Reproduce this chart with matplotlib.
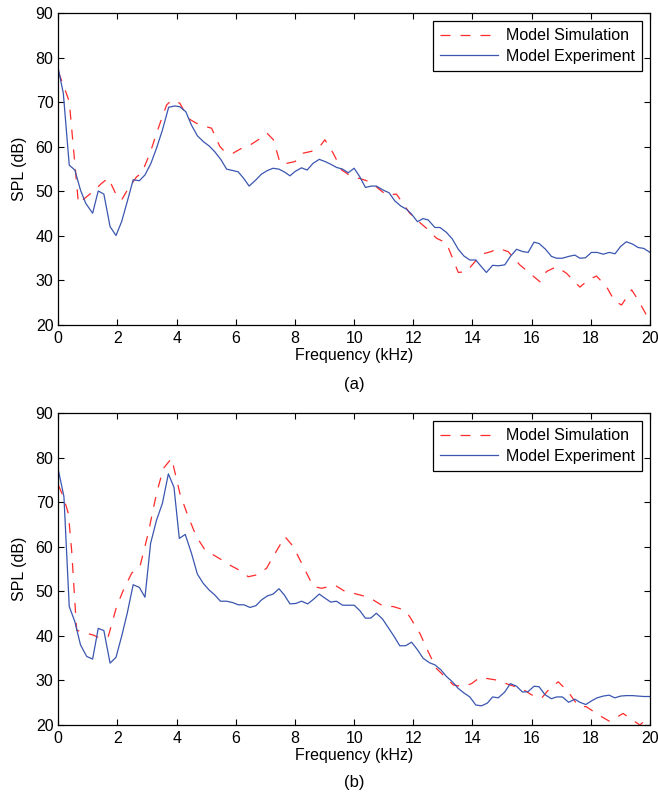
import matplotlib
matplotlib.use("Agg")
import matplotlib.pyplot as plt

plt.rcParams['font.family'] = ['Liberation Sans', 'DejaVu Sans']
plt.rcParams['font.size'] = 11.5
plt.rcParams['lines.scale_dashes'] = False

# ---- Panel (a) ----
a_exp_f = [0, 0.17, 0.37, 0.56, 0.75, 0.93, 1.16, 1.35, 1.54, 1.75, 1.95, 2.14, 2.33, 2.53, 2.74, 2.93,
           3.13, 3.32, 3.52, 3.73, 3.94, 4.11, 4.31, 4.5, 4.7, 4.9, 5.1, 5.29, 5.5, 5.69, 5.89, 6.08,
           6.27, 6.45, 6.68, 6.87, 7.07, 7.26, 7.46, 7.66, 7.83, 8.01, 8.22, 8.41, 8.61, 8.82, 9.02,
           9.21, 9.40, 9.61, 9.80, 10.0, 10.19, 10.38, 10.59, 10.75, 10.98, 11.18, 11.37, 11.58, 11.77,
           11.94, 12.14, 12.33, 12.5, 12.73, 12.9, 13.12, 13.32, 13.52, 13.71, 13.91, 14.11, 14.3, 14.47,
           14.68, 14.87, 15.09, 15.28, 15.49, 15.69, 15.88, 16.08, 16.25, 16.47, 16.67, 16.84, 17.04,
           17.25, 17.46, 17.63, 17.82, 18.02, 18.21, 18.42, 18.62, 18.82, 19.0, 19.2, 19.4, 19.6, 19.79, 20.0]
a_exp_db = [77.6, 72.0, 55.9, 54.8, 50.3, 47.3, 45.1, 50.1, 49.4, 42.1, 40.1, 43.2, 47.7, 52.6, 52.4, 53.7,
            56.3, 59.7, 63.8, 68.9, 69.2, 69.0, 67.9, 64.9, 62.5, 61.2, 60.2, 58.9, 57.1, 55.0, 54.7, 54.4,
            52.9, 51.2, 52.6, 53.9, 54.7, 55.2, 55.0, 54.3, 53.5, 54.5, 55.3, 54.8, 56.3, 57.2, 56.7,
            56.1, 55.4, 55.0, 54.2, 55.2, 53.3, 50.9, 51.2, 51.2, 50.3, 49.7, 47.9, 46.7, 46.0,
            44.9, 43.2, 43.9, 43.6, 41.9, 41.9, 40.8, 39.3, 37.0, 35.5, 34.6, 34.6, 33.1, 31.8,
            33.4, 33.3, 33.5, 35.4, 37.0, 36.5, 36.3, 38.6, 38.3, 37.0, 35.4, 35.0, 35.0,
            35.4, 35.7, 35.0, 35.1, 36.3, 36.3, 35.9, 36.3, 36.0, 37.6, 38.7, 38.2, 37.4, 37.2, 36.3]

a_sim_f = [0, 0.23, 0.37, 0.68, 0.9, 1.18, 1.46, 1.69, 1.99, 2.14, 2.37, 2.65, 2.82, 3.1, 3.38, 3.66, 3.83,
           4.11, 4.39, 4.67, 4.96, 5.18, 5.46, 5.63, 5.91, 6.2, 6.48, 6.76, 7.05, 7.27, 7.5, 7.72, 8.0,
           8.28, 8.56, 8.84, 9.01, 9.29, 9.58, 9.92, 10.19, 10.42, 10.64, 11.09, 11.43, 11.88, 12.22,
           12.45, 12.78, 13.12, 13.35, 13.52, 13.8, 14.08, 14.36, 14.64, 14.87, 15.2, 15.6, 15.94,
           16.28, 16.5, 16.84, 17.18, 17.63, 17.91, 18.19, 18.53, 18.81, 19.04, 19.38, 19.6, 19.94]
a_sim_db = [76.9, 72.8, 70.2, 47.3, 48.5, 50.0, 51.8, 53.0, 48.8, 48.1, 50.7, 53.3, 54.1, 58.6, 64.2, 69.4, 70.5,
            69.8, 66.4, 65.3, 64.6, 64.2, 60.1, 58.9, 58.6, 59.7, 60.4, 61.6, 63.1, 61.6, 56.3, 56.3, 56.7,
            58.6, 59.0, 60.1, 61.6, 58.6, 54.8, 53.3, 52.9, 52.4, 51.6, 49.2, 49.4, 45.1, 43.0,
            41.7, 39.5, 38.4, 34.6, 31.8, 32.0, 34.2, 36.0, 36.5, 37.2, 36.5, 33.5, 31.6,
            29.7, 32.0, 33.1, 31.6, 28.5, 30.1, 31.0, 28.6, 25.3, 24.5, 27.9, 25.6, 21.5]

# ---- Panel (b) ----
b_exp_f = [0, 0.19, 0.37, 0.56, 0.75, 0.96, 1.16, 1.35, 1.54, 1.75, 1.95, 2.14, 2.33, 2.53, 2.74, 2.93,
           3.12, 3.32, 3.52, 3.72, 3.91, 4.09, 4.29, 4.5, 4.7, 4.9, 5.1, 5.29, 5.48, 5.69, 5.89, 6.08,
           6.27, 6.48, 6.68, 6.87, 7.07, 7.26, 7.46, 7.64, 7.83, 8.03, 8.22, 8.43, 8.62, 8.82, 9.01,
           9.21, 9.4, 9.61, 9.8, 10.0, 10.19, 10.38, 10.56, 10.75, 10.96, 11.15, 11.35, 11.54, 11.74,
           11.94, 12.14, 12.33, 12.54, 12.73, 12.93, 13.12, 13.32, 13.52, 13.71, 13.91, 14.11, 14.3,
           14.5, 14.68, 14.87, 15.09, 15.28, 15.49, 15.69, 15.88, 16.08, 16.25, 16.45, 16.67, 16.84,
           17.04, 17.25, 17.46, 17.63, 17.83, 18.02, 18.21, 18.42, 18.62, 18.81, 19.01, 19.2, 19.4,
           19.6, 19.79, 20.0]
b_exp_db = [77.3, 71.3, 46.6, 43.2, 38.0, 35.4, 34.8, 41.7, 41.2, 33.9, 35.2, 39.9, 45.1, 51.5, 50.9, 48.7,
            60.8, 66.0, 69.8, 76.4, 73.4, 61.9, 62.8, 58.6, 53.9, 51.8, 50.3, 49.2, 47.8, 47.8, 47.5, 47.0,
            47.0, 46.4, 46.8, 48.1, 49.0, 49.4, 50.6, 49.2, 47.2, 47.3, 47.8, 47.2, 48.2, 49.4, 48.5,
            47.6, 47.8, 46.9, 46.9, 46.9, 45.7, 44.0, 44.0, 45.1, 43.8, 41.9, 39.9, 37.8, 37.8,
            38.6, 36.9, 35.0, 34.0, 33.5, 32.4, 30.9, 29.7, 28.2, 27.2, 26.3, 24.5, 24.3,
            24.9, 26.3, 26.1, 27.4, 29.3, 28.7, 27.4, 27.5, 28.7, 28.6, 26.8, 25.9, 26.3,
            26.3, 25.1, 25.8, 25.1, 24.6, 25.4, 26.1, 26.5, 26.7, 26.1, 26.5, 26.6, 26.6,
            26.5, 26.4, 26.4]

b_sim_f = [0, 0.17, 0.34, 0.45, 0.62, 0.84, 1.18, 1.41, 1.69, 1.97, 2.2, 2.48, 2.76, 3.04, 3.32, 3.55, 3.83,
           4.11, 4.39, 4.67, 4.96, 5.24, 5.52, 5.8, 6.14, 6.42, 6.7, 7.04, 7.26, 7.66, 7.94, 8.28, 8.62,
           8.9, 9.35, 9.69, 9.97, 10.42, 10.64, 10.98, 11.32, 11.71, 11.88, 12.22, 12.5, 12.78, 13.12,
           13.35, 13.68, 13.97, 14.25, 14.81, 15.26, 15.66, 15.99, 16.33, 16.61, 16.9, 17.23, 17.57,
           17.85, 18.25, 18.64, 19.09, 19.32, 19.66, 20.0]
b_sim_db = [73.9, 71.3, 67.5, 59.3, 41.3, 40.8, 40.2, 39.5, 39.9, 46.6, 50.3, 54.1, 55.6, 63.1, 72.0, 77.6, 79.9,
            72.0, 66.8, 62.3, 59.3, 58.2, 57.1, 55.9, 54.7, 53.3, 53.7, 55.2, 57.8, 62.3, 60.1, 55.6, 51.1,
            50.7, 51.4, 50.0, 49.6, 48.8, 48.1, 46.7, 46.6, 45.8, 44.3, 40.6, 36.5, 32.7, 30.5,
            29.0, 28.6, 29.3, 30.7, 30.1, 29.0, 28.2, 26.8, 26.0, 28.2, 29.7, 27.5, 24.3,
            24.1, 22.3, 20.8, 22.6, 21.5, 20.0, 22.0]

x_ticks = [0, 2, 4, 6, 8, 10, 12, 14, 16, 18, 20]
y_ticks = [20, 30, 40, 50, 60, 70, 80, 90]
series_labels = ['Model Simulation', 'Model Experiment']
panel_tags = ['(a)', '(b)']

RED = '#ff2a2a'
BLUE = '#3a56b0'
FS = 11.5

W, H = 658, 794
fig = plt.figure(figsize=(W / 100, H / 100), dpi=100)

panels = [
    (a_sim_f, a_sim_db, a_exp_f, a_exp_db, 13.3, 325.0, 384),
    (b_sim_f, b_sim_db, b_exp_f, b_exp_db, 413.3, 725.0, 782),
]
left_px, right_px = 58.3, 650.0

for i, (sf, sd, ef, ed, top_px, bot_px, tag_y) in enumerate(panels):
    ax = fig.add_axes([left_px / W, 1 - bot_px / H, (right_px - left_px) / W, (bot_px - top_px) / H])
    ax.plot(sf, sd, color=RED, lw=0.9, dashes=(7.2, 7.2), label=series_labels[0])
    ax.plot(ef, ed, color=BLUE, lw=0.9, label=series_labels[1])
    ax.set_xlim(0, 20)
    ax.set_ylim(20, 90)
    ax.set_xticks(x_ticks)
    ax.set_yticks(y_ticks)
    ax.tick_params(direction='in', top=True, right=True, length=4, width=0.8, labelsize=FS)
    ax.tick_params(axis='x', pad=4)
    ax.tick_params(axis='y', pad=3.5)
    for s in ax.spines.values():
        s.set_linewidth(0.9)
    ax.set_xlabel('Frequency (kHz)', fontsize=FS, labelpad=2)
    ax.set_ylabel('SPL (dB)', fontsize=FS, labelpad=6)
    leg = ax.legend(loc='upper right', fontsize=FS, frameon=True, fancybox=False, framealpha=1,
                    edgecolor='black', handlelength=3.6, handletextpad=0.5, borderpad=0.45,
                    labelspacing=0.35, borderaxespad=0.5)
    leg.get_frame().set_linewidth(0.9)
    fig.text((left_px + right_px) / 2 / W, 1 - tag_y / H, panel_tags[i], ha='center', va='center',
             fontsize=FS + 0.5)

fig.savefig('out.png', dpi=100)
